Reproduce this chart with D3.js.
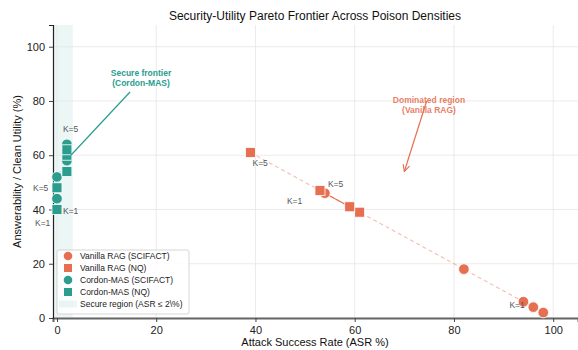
<!DOCTYPE html>
<html lang="en">
<head>
<meta charset="UTF-8">
<title>Security-Utility Pareto Frontier</title>
<script src="https://d3js.org/d3.v7.min.js"></script>
<style>
  body { margin: 0; background: #fff; font-family: "Liberation Sans", Arial, sans-serif; }
  svg text { font-family: "Liberation Sans", Arial, sans-serif; }
</style>
</head>
<body>
<svg id="chart" width="578" height="350"></svg>
<script>
// ASR (%) and utility (%) per poison density K
const vanillaSci = { asr: [98, 96, 94, 82, 54], util: [2, 4, 6, 18, 46] };
const vanillaNq  = { asr: [61, 59, 53, 39],     util: [39, 41, 47, 61] };
const cordonSci  = { asr: [0, 0, 2, 2, 2],      util: [44, 52, 58, 62, 64] };
const cordonNq   = { asr: [0, 0, 2, 2, 2],      util: [40, 48, 54, 60, 62] };
const xTicks = [0, 20, 40, 60, 80, 100];
const yTicks = [0, 20, 40, 60, 80, 100];
const kLabels = [
  { text: "K=5", x: 2, y: 64, dx: -4, dy: -12 },
  { text: "K=5", x: 0, y: 52, dx: -24, dy: 14 },
  { text: "K=1", x: 0, y: 40, dx: 6, dy: 5 },
  { text: "K=1", x: 0, y: 44, dx: -22, dy: 27 },
  { text: "K=5", x: 39, y: 61, dx: 2, dy: 13 },
  { text: "K=5", x: 54, y: 46, dx: 3, dy: -6 },
  { text: "K=1", x: 53, y: 47, dx: -33, dy: 14 },
  { text: "K=1", x: 94, y: 6, dx: -14, dy: 6 }
];

const orange = "#e76f51", teal = "#2a9d8f";
const svg = d3.select("#chart");
const margin = { top: 25, right: 0, bottom: 32, left: 53 };
const W = 578, H = 350;

const x = d3.scaleLinear().domain([-0.8, 105]).range([margin.left, W - margin.right]);
const y = d3.scaleLinear().domain([0, 108]).range([H - margin.bottom, margin.top]);

// secure region band
svg.append("rect")
  .attr("x", x(-0.8)).attr("y", y(108))
  .attr("width", x(3.2) - x(-0.8)).attr("height", y(0) - y(108))
  .attr("fill", teal).attr("opacity", 0.09);

// grid
svg.append("g").selectAll("line").data(xTicks).join("line")
  .attr("x1", d => x(d)).attr("x2", d => x(d))
  .attr("y1", y(0)).attr("y2", y(108))
  .attr("stroke", "#e6e6e6").attr("stroke-width", 0.8);
svg.append("g").selectAll("line").data(yTicks).join("line")
  .attr("y1", d => y(d)).attr("y2", d => y(d))
  .attr("x1", x(-0.8)).attr("x2", x(105))
  .attr("stroke", "#e6e6e6").attr("stroke-width", 0.8);

// axes
const xAxis = svg.append("g")
  .attr("transform", `translate(0,${y(0)})`)
  .call(d3.axisBottom(x).tickValues(xTicks).tickSize(4).tickPadding(4));
xAxis.select(".domain").attr("stroke", "#666").attr("stroke-width", 2);
const yAxis = svg.append("g")
  .attr("transform", `translate(${x(-0.8)},0)`)
  .call(d3.axisLeft(y).tickValues(yTicks).tickSize(4).tickPadding(4));
yAxis.select(".domain").attr("stroke", "#222").attr("stroke-width", 1.2);
svg.selectAll(".tick text").attr("font-size", 11).attr("fill", "#222");
svg.selectAll(".tick line").attr("stroke", "#444");

// connecting lines
const line = d3.line().x(d => x(d[0])).y(d => y(d[1]));
const zipPts = s => s.asr.map((a, i) => [a, s.util[i]]);
const vanillaAll = zipPts(vanillaSci).concat(zipPts(vanillaNq)).sort((a, b) => a[0] - b[0]);
svg.append("path").datum(vanillaAll).attr("d", line)
  .attr("fill", "none").attr("stroke", orange).attr("stroke-opacity", 0.45)
  .attr("stroke-width", 1.1).attr("stroke-dasharray", "4,3");
svg.append("path").datum([[vanillaSci.asr[4], vanillaSci.util[4]], [vanillaNq.asr[1], vanillaNq.util[1]]])
  .attr("d", line).attr("fill", "none").attr("stroke", orange).attr("stroke-width", 1.2);
const cordonAll = zipPts(cordonNq).slice(0, 2).concat(zipPts(cordonSci).slice(0, 2)).sort((a, b) => a[1] - b[1])
  .concat(zipPts(cordonSci).slice(2));
svg.append("path").datum(cordonAll).attr("d", line)
  .attr("fill", "none").attr("stroke", teal).attr("stroke-opacity", 0.45)
  .attr("stroke-width", 1.1).attr("stroke-dasharray", "3,3");

// markers
function circles(s, color) {
  svg.append("g").selectAll("circle").data(zipPts(s)).join("circle")
    .attr("cx", d => x(d[0])).attr("cy", d => y(d[1])).attr("r", 5.3)
    .attr("fill", color).attr("stroke", "#fff").attr("stroke-width", 0.8);
}
function squares(s, color) {
  svg.append("g").selectAll("rect").data(zipPts(s)).join("rect")
    .attr("x", d => x(d[0]) - 5).attr("y", d => y(d[1]) - 5)
    .attr("width", 10).attr("height", 10)
    .attr("fill", color).attr("stroke", "#fff").attr("stroke-width", 0.8);
}
circles(vanillaSci, orange);
squares(vanillaNq, orange);
circles(cordonSci, teal);
squares(cordonNq, teal);

// K labels
svg.append("g").selectAll("text").data(kLabels).join("text")
  .attr("x", d => x(d.x) + d.dx).attr("y", d => y(d.y) + d.dy)
  .attr("font-size", 8.5).attr("fill", "#555").text(d => d.text);

// annotations
svg.append("defs").append("marker")
  .attr("id", "arrO").attr("viewBox", "0 0 10 10").attr("refX", 9).attr("refY", 5)
  .attr("markerWidth", 7).attr("markerHeight", 7).attr("orient", "auto")
  .append("path").attr("d", "M1,1 L9,5 L1,9").attr("fill", "none").attr("stroke", orange).attr("stroke-width", 1.3);

svg.append("line").attr("x1", 130).attr("y1", 92).attr("x2", x(2) + 4).attr("y2", y(60))
  .attr("stroke", teal).attr("stroke-width", 1.2);
const sf = svg.append("text").attr("text-anchor", "middle").attr("font-size", 8.5)
  .attr("font-weight", "bold").attr("fill", teal);
sf.append("tspan").attr("x", 141).attr("y", 76).text("Secure frontier");
sf.append("tspan").attr("x", 141).attr("dy", 10).text("(Cordon-MAS)");

svg.append("line").attr("x1", x(74.5)).attr("y1", y(80)).attr("x2", x(70)).attr("y2", y(54))
  .attr("stroke", orange).attr("stroke-width", 1.2).attr("marker-end", "url(#arrO)");
const dr = svg.append("text").attr("text-anchor", "middle").attr("font-size", 8.5)
  .attr("font-weight", "bold").attr("fill", orange).attr("fill-opacity", 0.9);
dr.append("tspan").attr("x", 429).attr("y", 103).text("Dominated region");
dr.append("tspan").attr("x", 429).attr("dy", 10).text("(Vanilla RAG)");

// title & axis labels
svg.append("text").attr("x", 315).attr("y", 20).attr("text-anchor", "middle")
  .attr("font-size", 12).attr("fill", "#111")
  .text("Security-Utility Pareto Frontier Across Poison Densities");
svg.append("text").attr("x", 315).attr("y", 346).attr("text-anchor", "middle")
  .attr("font-size", 11).attr("fill", "#111").text("Attack Success Rate (ASR %)");
svg.append("text").attr("transform", `translate(21,${(y(0) + y(108)) / 2}) rotate(-90)`)
  .attr("text-anchor", "middle").attr("font-size", 11).attr("fill", "#111")
  .text("Answerability / Clean Utility (%)");

// legend
const lg = svg.append("g").attr("transform", "translate(57,250)");
lg.append("rect").attr("width", 132).attr("height", 64).attr("rx", 2)
  .attr("fill", "#fff").attr("fill-opacity", 0.85).attr("stroke", "#ccc").attr("stroke-width", 0.8);
const legendItems = [
  { label: "Vanilla RAG (SCIFACT)", color: orange, shape: "circle" },
  { label: "Vanilla RAG (NQ)", color: orange, shape: "square" },
  { label: "Cordon-MAS (SCIFACT)", color: teal, shape: "circle" },
  { label: "Cordon-MAS (NQ)", color: teal, shape: "square" },
  { label: "Secure region (ASR  \u2264 2\\%)", color: teal, shape: "band" }
];
legendItems.forEach((it, i) => {
  const cy = 6 + i * 12;
  if (it.shape === "circle") {
    lg.append("circle").attr("cx", 11).attr("cy", cy).attr("r", 4.3).attr("fill", it.color);
  } else if (it.shape === "square") {
    lg.append("rect").attr("x", 7).attr("y", cy - 4).attr("width", 8).attr("height", 8).attr("fill", it.color);
  } else {
    lg.append("rect").attr("x", 2).attr("y", cy - 3.5).attr("width", 18).attr("height", 7)
      .attr("fill", it.color).attr("opacity", 0.09);
  }
  lg.append("text").attr("x", 23).attr("y", cy + 3).attr("font-size", 8.5).attr("fill", "#222").text(it.label);
});
</script>
</body>
</html>
